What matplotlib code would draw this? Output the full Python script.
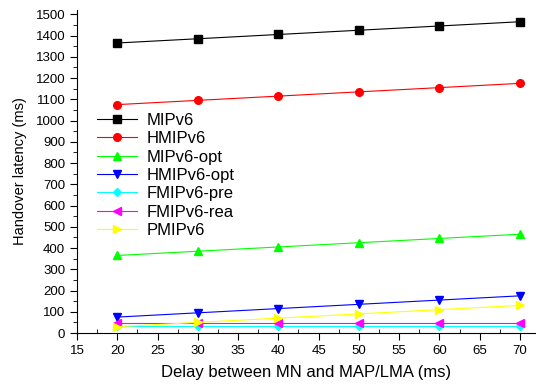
import matplotlib
matplotlib.use('Agg')
import matplotlib.pyplot as plt
from matplotlib.ticker import MultipleLocator

plt.rcParams['font.family'] = ['Liberation Sans', 'DejaVu Sans']

delay = [20, 30, 40, 50, 60, 70]
mipv6 = [1365, 1385, 1405, 1425, 1445, 1465]
hmipv6 = [1075, 1095, 1115, 1135, 1155, 1175]
mipv6_opt = [365, 385, 405, 425, 445, 465]
hmipv6_opt = [75, 95, 115, 135, 155, 175]
fmipv6_pre = [35, 35, 35, 35, 35, 35]
fmipv6_rea = [45, 45, 45, 45, 45, 45]
pmipv6 = [30, 50, 70, 90, 110, 130]

series = [
    ('MIPv6', mipv6, 'black', 's'),
    ('HMIPv6', hmipv6, 'red', 'o'),
    ('MIPv6-opt', mipv6_opt, '#00ff00', '^'),
    ('HMIPv6-opt', hmipv6_opt, 'blue', 'v'),
    ('FMIPv6-pre', fmipv6_pre, 'cyan', 'D'),
    ('FMIPv6-rea', fmipv6_rea, 'magenta', '<'),
    ('PMIPv6', pmipv6, 'yellow', '>'),
]

fig = plt.figure(figsize=(5.36, 3.87), dpi=100)
ax = fig.add_axes([0.1437, 0.1395, 0.8563, 0.8345])

for name, vals, col, mk in series:
    ms = 4.5 if mk == 'D' else 5.5
    ax.plot(delay, vals, color=col, marker=mk, markersize=ms, lw=0.8,
            markeredgecolor=col, label=name)

ax.set_xlim(15, 72)
ax.set_ylim(0, 1520)
ax.xaxis.set_major_locator(MultipleLocator(5))
ax.xaxis.set_minor_locator(MultipleLocator(2.5))
ax.yaxis.set_major_locator(MultipleLocator(100))
ax.yaxis.set_minor_locator(MultipleLocator(50))
ax.spines['top'].set_visible(False)
ax.spines['right'].set_visible(False)
ax.tick_params(axis='both', which='major', direction='out', length=5, labelsize=9.5)
ax.tick_params(axis='x', which='minor', direction='in', length=3)
ax.tick_params(axis='y', which='minor', direction='out', length=3)

ax.set_xlabel('Delay between MN and MAP/LMA (ms)', fontsize=12, labelpad=6)
ax.set_ylabel('Handover latency (ms)', fontsize=10.5, labelpad=6)

ax.legend(loc='upper left', bbox_to_anchor=(0.01, 0.728), frameon=False,
          fontsize=12, handlelength=2.4, labelspacing=0.2, handletextpad=0.6)

fig.savefig('out.png', dpi=100)
